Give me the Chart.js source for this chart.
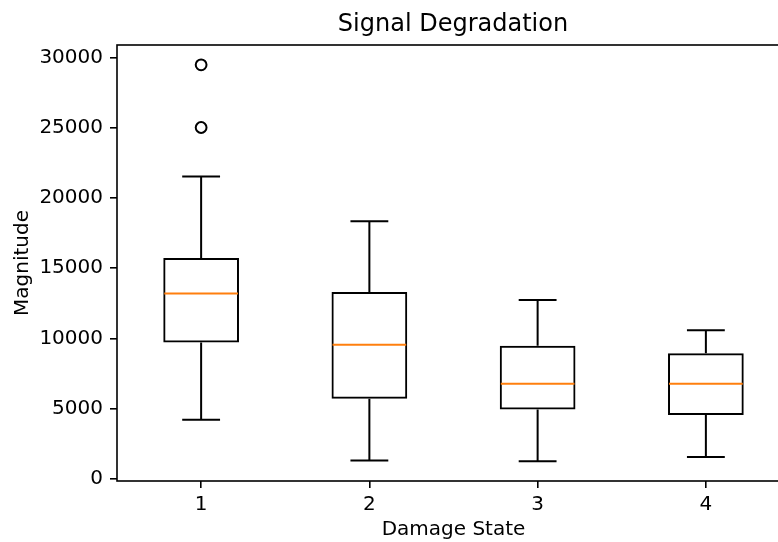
<!DOCTYPE html>
<html>
<head>
<meta charset="utf-8">
<script src="https://cdn.jsdelivr.net/npm/chart.js@4.4.1/dist/chart.umd.min.js"></script>
<style>
  html, body { margin: 0; padding: 0; background: #fff; overflow: hidden; }
  #wrap { width: 778px; height: 542px; overflow: hidden; }
</style>
</head>
<body>
<div id="wrap">
  <!-- canvas is wider than the window: the reference axes run past the right edge -->
  <canvas id="boxChart" width="906" height="542"></canvas>
</div>
<script>
// Box plot stats per damage state
const categories = ["1", "2", "3", "4"];
const whiskerLow = [4200, 1290, 1240, 1540];
const q1 = [9710, 5700, 4920, 4540];
const median = [13190, 9550, 6770, 6770];
const q3 = [15730, 13300, 9480, 8930];
const whiskerHigh = [21540, 18340, 12730, 10570];
const outlierCat = ["1", "1"];
const outlierVal = [29500, 25030];
const yTicks = [0, 5000, 10000, 15000, 20000, 25000, 30000];

const fontFamily = "'DejaVu Sans', sans-serif";

// whiskers, caps and medians drawn with the chart's own scales
const boxExtras = {
    id: "boxExtras",
    afterDatasetsDraw(chart) {
        const ctx = chart.ctx;
        const x = chart.scales.x;
        const y = chart.scales.y;
        const boxW = x.getPixelForValue(1) - x.getPixelForValue(0);
        ctx.save();
        ctx.lineCap = "butt";
        categories.forEach((c, i) => {
            const cx = x.getPixelForValue(i);
            const capHalf = boxW * 0.45 / 4;
            const boxHalf = boxW * 0.45 / 2;
            ctx.strokeStyle = "#000";
            ctx.lineWidth = 2;
            ctx.beginPath();
            // lower whisker
            ctx.moveTo(cx, y.getPixelForValue(q1[i]));
            ctx.lineTo(cx, y.getPixelForValue(whiskerLow[i]));
            // upper whisker
            ctx.moveTo(cx, y.getPixelForValue(q3[i]));
            ctx.lineTo(cx, y.getPixelForValue(whiskerHigh[i]));
            // caps
            ctx.moveTo(cx - capHalf, y.getPixelForValue(whiskerLow[i]));
            ctx.lineTo(cx + capHalf, y.getPixelForValue(whiskerLow[i]));
            ctx.moveTo(cx - capHalf, y.getPixelForValue(whiskerHigh[i]));
            ctx.lineTo(cx + capHalf, y.getPixelForValue(whiskerHigh[i]));
            ctx.stroke();
            // median
            ctx.strokeStyle = "#ff7f0e";
            ctx.beginPath();
            ctx.moveTo(cx - boxHalf + 1, y.getPixelForValue(median[i]));
            ctx.lineTo(cx + boxHalf - 1, y.getPixelForValue(median[i]));
            ctx.stroke();
        });
        ctx.restore();
    },
    afterDraw(chart) {
        // axes frame (spines)
        const a = chart.chartArea;
        const ctx = chart.ctx;
        ctx.save();
        ctx.strokeStyle = "#000";
        ctx.lineWidth = 1.6;
        ctx.strokeRect(a.left, a.top, a.right - a.left, a.bottom - a.top);
        ctx.restore();
    }
};

new Chart(document.getElementById("boxChart"), {
    type: "bar",
    data: {
        labels: categories,
        datasets: [
            {
                type: "bar",
                data: categories.map((_, i) => [q1[i], q3[i]]),
                backgroundColor: "rgba(255,255,255,0)",
                borderColor: "#000",
                borderWidth: 2,
                borderSkipped: false,
                barPercentage: 0.45,
                categoryPercentage: 1.0
            },
            {
                type: "line",
                data: outlierCat.map((c, i) => ({ x: c, y: outlierVal[i] })),
                showLine: false,
                pointStyle: "circle",
                pointRadius: 5.4,
                pointBorderWidth: 2,
                pointBorderColor: "#000",
                pointBackgroundColor: "rgba(255,255,255,0)"
            }
        ]
    },
    options: {
        responsive: false,
        animation: false,
        layout: { padding: 0 },
        plugins: {
            legend: { display: false },
            tooltip: { enabled: false },
            title: {
                display: true,
                text: "Signal Degradation",
                color: "#000",
                font: { family: fontFamily, size: 24, weight: "normal", lineHeight: 1.2 },
                padding: { top: 10.3, bottom: 5.9 }
            }
        },
        scales: {
            x: {
                type: "category",
                offset: true,
                border: { display: false },
                grid: {
                    drawOnChartArea: false,
                    drawTicks: true,
                    tickLength: 7,
                    tickColor: "#000",
                    lineWidth: 1.6,
                    offset: false
                },
                ticks: {
                    color: "#000",
                    padding: 5,
                    font: { family: fontFamily, size: 20 }
                },
                title: {
                    display: true,
                    text: "Damage State",
                    color: "#000",
                    font: { family: fontFamily, size: 20, lineHeight: 1.2 },
                    padding: { top: 0, bottom: 0 }
                },
                afterFit: s => { s.height = 61; }
            },
            y: {
                min: -170,
                max: 30910,
                border: { display: false },
                grid: {
                    drawOnChartArea: false,
                    drawTicks: true,
                    tickLength: 7,
                    tickColor: "#000",
                    lineWidth: 1.6
                },
                ticks: {
                    color: "#000",
                    padding: 7,
                    font: { family: fontFamily, size: 20 },
                    callback: v => String(v)
                },
                afterBuildTicks: s => { s.ticks = yTicks.map(v => ({ value: v })); },
                title: {
                    display: true,
                    text: "Magnitude",
                    color: "#000",
                    font: { family: fontFamily, size: 20, lineHeight: 1.2 },
                    padding: { top: 11, bottom: 0 }
                },
                afterFit: s => { s.width = 117; }
            },
            // empty right-hand margin so the title stays centred over the axes
            rightMargin: {
                type: "linear",
                position: "right",
                display: true,
                grid: { display: false },
                ticks: { display: false },
                border: { display: false },
                afterFit: s => { s.width = 116; }
            }
        }
    },
    plugins: [boxExtras]
});
</script>
</body>
</html>
